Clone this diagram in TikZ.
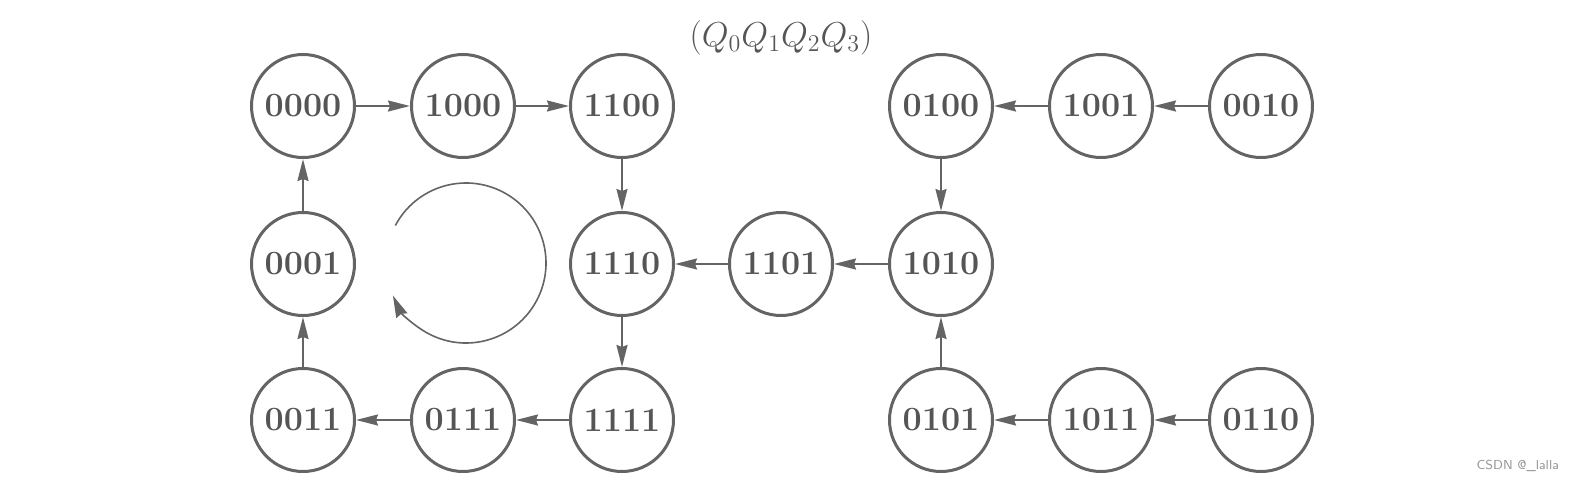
\documentclass[tikz,border=0pt]{standalone}
\usepackage{fontspec}
\usetikzlibrary{arrows.meta}
\definecolor{lc}{RGB}{100,100,100}
\definecolor{tc}{RGB}{85,85,85}
\definecolor{wm}{RGB}{150,150,150}
\tikzset{
  st/.style={circle,draw=lc,line width=1.5pt,minimum size=51.5pt,inner sep=0pt,
    text=tc,font=\bfseries\fontsize{17}{17}\selectfont},
  tr/.style={draw=lc,line width=1pt,-{Stealth[length=11pt,width=5.5pt,inset=1pt]}},
}
\begin{document}
\begin{tikzpicture}[x=0.5pt,y=-0.5pt]
\useasboundingbox (0,0) rectangle (1571,483);
\node[text=tc,font=\fontsize{18}{18}\selectfont] (title) at (781,38) {$(Q_0Q_1Q_2Q_3)$};
% row 1
\node[st] (s0000) at (303,106) {0000};
\node[st] (s1000) at (463,106) {1000};
\node[st] (s1100) at (622,106) {1100};
\node[st] (s0100) at (941,106) {0100};
\node[st] (s1001) at (1101,106) {1001};
\node[st] (s0010) at (1261,106) {0010};
% row 2
\node[st] (s0001) at (303,264) {0001};
\node[st] (s1110) at (622,264) {1110};
\node[st] (s1101) at (781,264) {1101};
\node[st] (s1010) at (941,264) {1010};
% row 3
\node[st] (s0011) at (303,420) {0011};
\node[st] (s0111) at (463,420) {0111};
\node[st] (s1111) at (622,420) {1111};
\node[st] (s0101) at (941,420) {0101};
\node[st] (s1011) at (1101,420) {1011};
\node[st] (s0110) at (1261,420) {0110};
% transitions
\draw[tr] (s0000) -- (s1000);
\draw[tr] (s1000) -- (s1100);
\draw[tr] (s1100) -- (s1110);
\draw[tr] (s1110) -- (s1111);
\draw[tr] (s1111) -- (s0111);
\draw[tr] (s0111) -- (s0011);
\draw[tr] (s0011) -- (s0001);
\draw[tr] (s0001) -- (s0000);
\draw[tr] (s1101) -- (s1110);
\draw[tr] (s1010) -- (s1101);
\draw[tr] (s0100) -- (s1010);
\draw[tr] (s0101) -- (s1010);
\draw[tr] (s1001) -- (s0100);
\draw[tr] (s0010) -- (s1001);
\draw[tr] (s1011) -- (s0101);
\draw[tr] (s0110) -- (s1011);
% cycle direction
\coordinate (cyc) at (466,263);
\draw[draw=lc,line width=0.8pt,-{Stealth[length=11pt,width=6pt,inset=1pt]}]
  ([shift={(-152:80)}]cyc) arc[start angle=-152,end angle=156,radius=80];
\node[text=wm,font=\sffamily\fontsize{6.5}{6.5}\selectfont,anchor=east] (wmk) at (1566,466) {CSDN @\_lalla};
\end{tikzpicture}
\end{document}
